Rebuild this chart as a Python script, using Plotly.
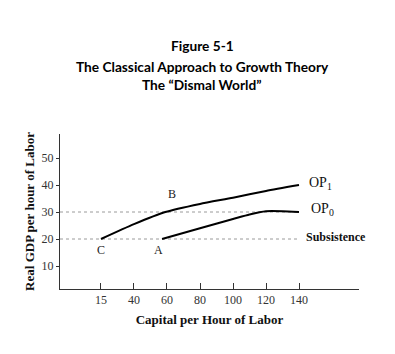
import plotly.graph_objects as go

# Tick labels of the (evenly spaced) capital axis
x_labels = ["15", "40", "60", "80", "100", "120", "140"]
x_pos = [0, 1, 2, 3, 4, 5, 6]

# OP1 curve (position on capital axis, real GDP per hour)
op1_x = [0, 1, 1.95, 3, 4, 5, 6]
op1_y = [20, 25.5, 30, 33, 35.3, 37.8, 40]

# OP0 curve
op0_x = [1.85, 3, 4, 4.5, 5, 5.5, 6]
op0_y = [20, 24, 27.4, 29.1, 30.3, 30.3, 30]

subsistence = 20
op0_level = 30

y_ticks = [10, 20, 30, 40, 50]

xr = [-1.242, 7.818]
yr = [1.48, 58.9]

fig = go.Figure()

# dotted reference lines
for lvl in [op0_level, subsistence]:
    fig.add_trace(go.Scatter(x=[xr[0], 6], y=[lvl, lvl], mode="lines",
                             line=dict(color="#9a9a9a", width=1, dash="dot"),
                             hoverinfo="skip", showlegend=False))

fig.add_trace(go.Scatter(x=op1_x, y=op1_y, mode="lines", line=dict(color="black", width=2, shape="spline", smoothing=0.6), showlegend=False))
fig.add_trace(go.Scatter(x=op0_x, y=op0_y, mode="lines", line=dict(color="black", width=2, shape="spline", smoothing=0.6), showlegend=False))

serif = "Times New Roman, Liberation Serif, serif"
ann = []
ann.append(dict(x=2.15, y=36.7, text="B", showarrow=False, font=dict(family=serif, size=12, color="#222")))
ann.append(dict(x=0, y=15.9, text="C", showarrow=False, font=dict(family=serif, size=12, color="#222")))
ann.append(dict(x=1.73, y=15.9, text="A", showarrow=False, font=dict(family=serif, size=12, color="#222")))
ann.append(dict(x=6.24, y=40.5, text="OP<sub>1</sub>", showarrow=False, xanchor="left", font=dict(family=serif, size=14, color="#111")))
ann.append(dict(x=6.3, y=30.9, text="OP<sub>0</sub>", showarrow=False, xanchor="left", font=dict(family=serif, size=14, color="#111")))
ann.append(dict(x=6.15, y=20.6, text="<b>Subsistence</b>", showarrow=False, xanchor="left", font=dict(family=serif, size=12, color="#111")))

title_font = dict(family="Lato, Open Sans, sans-serif", size=13.7, color="black")
for txt, ypix in [("Figure 5-1", 45), ("The Classical Approach to Growth Theory", 66), ("The \u201cDismal World\u201d", 84)]:
    ann.append(dict(xref="paper", yref="paper", x=(202 - 60) / 299, y=(289 - ypix) / 155,
                    text="<b>" + txt + "</b>", showarrow=False, font=title_font, yanchor="middle"))

fig.update_layout(
    width=395, height=354,
    margin=dict(l=60, r=36, t=134, b=65),
    paper_bgcolor="white", plot_bgcolor="white",
    annotations=ann,
    xaxis=dict(range=xr, tickvals=x_pos, ticktext=x_labels, ticks="inside", ticklen=6,
               tickcolor="#333", showline=True, linecolor="#333", linewidth=1,
               showgrid=False, zeroline=False,
               tickfont=dict(family=serif, size=12, color="#333"),
               title=dict(text="<b>Capital per Hour of Labor</b>", font=dict(family=serif, size=13, color="#111"), standoff=8)),
    yaxis=dict(range=yr, tickvals=y_ticks, ticks="outside", ticklen=3, tickcolor="#333",
               showline=True, linecolor="#333", linewidth=1, showgrid=False, zeroline=False,
               tickfont=dict(family=serif, size=12, color="#333"), ticklabelstandoff=0,
               title=dict(text="<b>Real GDP per hour of Labor</b>", font=dict(family=serif, size=13, color="#111"), standoff=4)),
)

fig.write_html("out.html")
